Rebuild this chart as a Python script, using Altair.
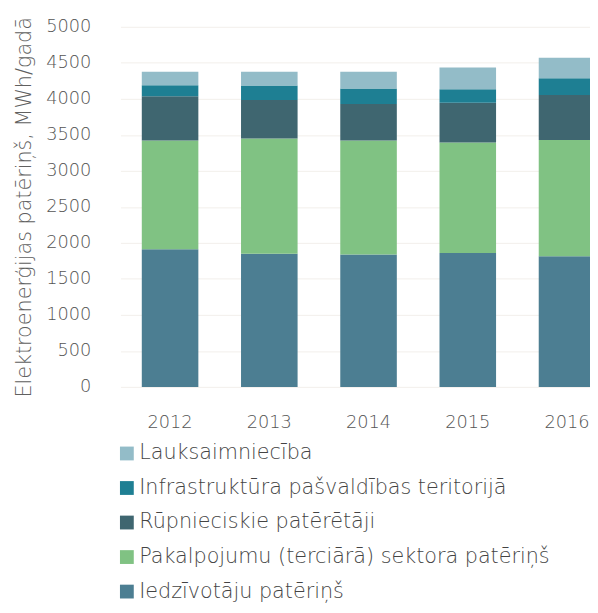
import altair as alt
import pandas as pd

years = ["2012", "2013", "2014", "2015", "2016"]
series = [
    "Iedzīvotāju patēriņš",
    "Pakalpojumu (terciārā) sektora patēriņš",
    "Rūpnieciskie patērētāji",
    "Infrastruktūra pašvaldības teritorijā",
    "Lauksaimniecība",
]
iedzivotaju = [1910, 1850, 1840, 1860, 1815]
pakalpojumu = [1510, 1600, 1580, 1535, 1615]
rupnieciskie = [615, 535, 510, 550, 625]
infrastruktura = [155, 200, 215, 190, 230]
lauksaimnieciba = [185, 190, 230, 300, 285]
colors = ["#4c7e92", "#80c283", "#3f6670", "#1e7f93", "#93bcc8"]

values = [iedzivotaju, pakalpojumu, rupnieciskie, infrastruktura, lauksaimnieciba]
rows = []
for si, (name, vals) in enumerate(zip(series, values)):
    for y, v in zip(years, vals):
        rows.append({"Gads": y, "Sektors": name, "Vērtība": v, "ord": si})
df = pd.DataFrame(rows)

FONT = "DejaVu Sans"
W = 200

chart = alt.Chart(df).mark_bar(clip=True).encode(
    x=alt.X("Gads:N", sort=years,
            scale=alt.Scale(range=[10, 513], paddingInner=0.43, paddingOuter=0.215),
            axis=alt.Axis(title=None, labelAngle=0, labelFontSize=18, labelColor="#555555",
                          labelFont=FONT, labelFontWeight=W, labelPadding=27, domain=False,
                          ticks=False, grid=False)),
    y=alt.Y("Vērtība:Q", stack="zero",
            scale=alt.Scale(domain=[0, 5000]),
            axis=alt.Axis(title="Elektroenerģijas patēriņš, MWh/gadā", values=list(range(0, 5001, 500)),
                          format="d",
                          titleFontSize=21, titleFont=FONT, titleFontWeight=W,
                          titleColor="#606060", titlePadding=11,
                          labelFontSize=18, labelFont=FONT, labelFontWeight=W,
                          labelColor="#555555", labelPadding=20,
                          domain=False, ticks=False, grid=True, gridColor="#f2efeb")),
    color=alt.Color("Sektors:N", sort=series[::-1],
                    scale=alt.Scale(domain=series[::-1], range=colors[::-1]),
                    legend=alt.Legend(title=None, orient="none", legendX=6, legendY=422,
                                      direction="vertical", symbolType="square", symbolSize=196,
                                      symbolStrokeWidth=0, labelFontSize=21, labelFont=FONT,
                                      labelFontWeight=W,
                                      labelColor="#444444", rowPadding=13, labelOffset=2,
                                      labelLimit=600)),
    order=alt.Order("ord:Q", sort="ascending"),
).properties(
    width=486, height=365,
    autosize=alt.AutoSizeParams(type="none"),
    padding={"left": 104, "top": 15, "right": 0, "bottom": 217},
).configure_view(stroke=None)

chart.save("out.html", embed_options={"renderer": "svg", "actions": False})
